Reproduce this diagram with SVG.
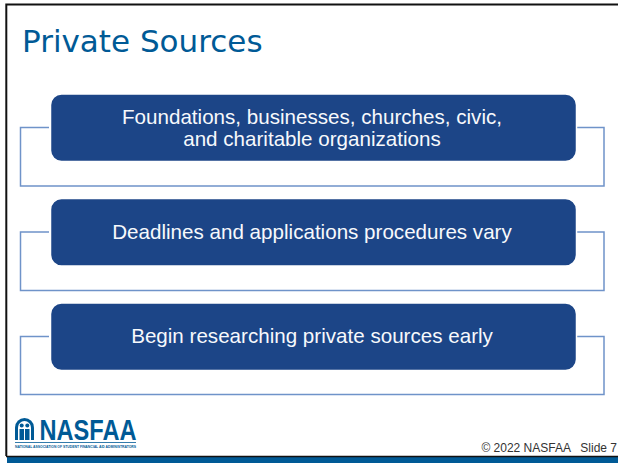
<svg xmlns="http://www.w3.org/2000/svg" width="618" height="463" viewBox="0 0 618 463">
<style>
.box{fill:#1c4587;stroke:#fff;stroke-width:1.5}
.conn{fill:none;stroke:#6f93c9;stroke-width:1.5}
.lbl{font-family:"Liberation Sans",Arial,sans-serif;font-size:20.6px;fill:#f7f9fc;text-anchor:middle}
</style>
<rect x="0" y="0" width="618" height="463" fill="#fff"/>
<path d="M618 4.500H6.300V456" fill="none" stroke="#111" stroke-width="2"/>
<rect x="7" y="456" width="611" height="7" fill="#005a96"/>
<path d="M6 456.500H618" stroke="#111" stroke-width="1.500"/>
<text x="22" y="52" font-family="'DejaVu Sans',Verdana,sans-serif" font-size="31px" fill="#005a96">Private Sources</text>
<g id="connectors">
<path class="conn" d="M49 127.500H20.500V186H604V127.500H577"/>
<path class="conn" d="M49 232H20.500V290.500H604V232H577"/>
<path class="conn" d="M49 336.500H20.500V394.500H604V336.500H577"/>
</g>
<g id="node1"><rect class="box" x="50.500" y="94" width="526" height="67.500" rx="11"/>
<text class="lbl" x="312" y="124">Foundations, businesses, churches, civic,</text>
<text class="lbl" x="312" y="145.500">and charitable organizations</text></g>
<g id="node2"><rect class="box" x="50.500" y="198.500" width="526" height="67.500" rx="11"/>
<text class="lbl" x="312" y="239">Deadlines and applications procedures vary</text></g>
<g id="node3"><rect class="box" x="50.500" y="303" width="526" height="67.500" rx="11"/>
<text class="lbl" x="312" y="343">Begin researching private sources early</text></g>
<g id="logo">
<path fill="#005a96" d="M15 440V427.500a9.500 9.500 0 0 1 19 0V440Z"/>
<path fill="#fff" d="M18 440V427.500a6.500 6.500 0 0 1 13 0V440Z"/>
<circle cx="21.700" cy="425.500" r="2" fill="#005a96"/><circle cx="27.300" cy="425.500" r="2" fill="#005a96"/>
<path fill="#005a96" d="M19.500 429H24V440H19.500ZM25 429H29.500V440H25Z"/>
<text x="39.500" y="440" font-family="'Liberation Sans',Arial,sans-serif" font-weight="700" font-size="29px" fill="#005a96" textLength="97" lengthAdjust="spacingAndGlyphs">NASFAA</text>
<rect x="15" y="442" width="121" height="0.800" fill="#005a96"/>
<text x="15" y="447.500" font-family="'Liberation Sans',Arial,sans-serif" font-weight="700" font-size="3px" fill="#005a96" textLength="121" lengthAdjust="spacingAndGlyphs">NATIONAL ASSOCIATION OF STUDENT FINANCIAL AID ADMINISTRATORS</text>
</g>
<text x="617" y="452" text-anchor="end" font-family="'Liberation Sans',Arial,sans-serif" font-size="12px" fill="#333" xml:space="preserve">© 2022 NASFAA   Slide 7</text>
</svg>
